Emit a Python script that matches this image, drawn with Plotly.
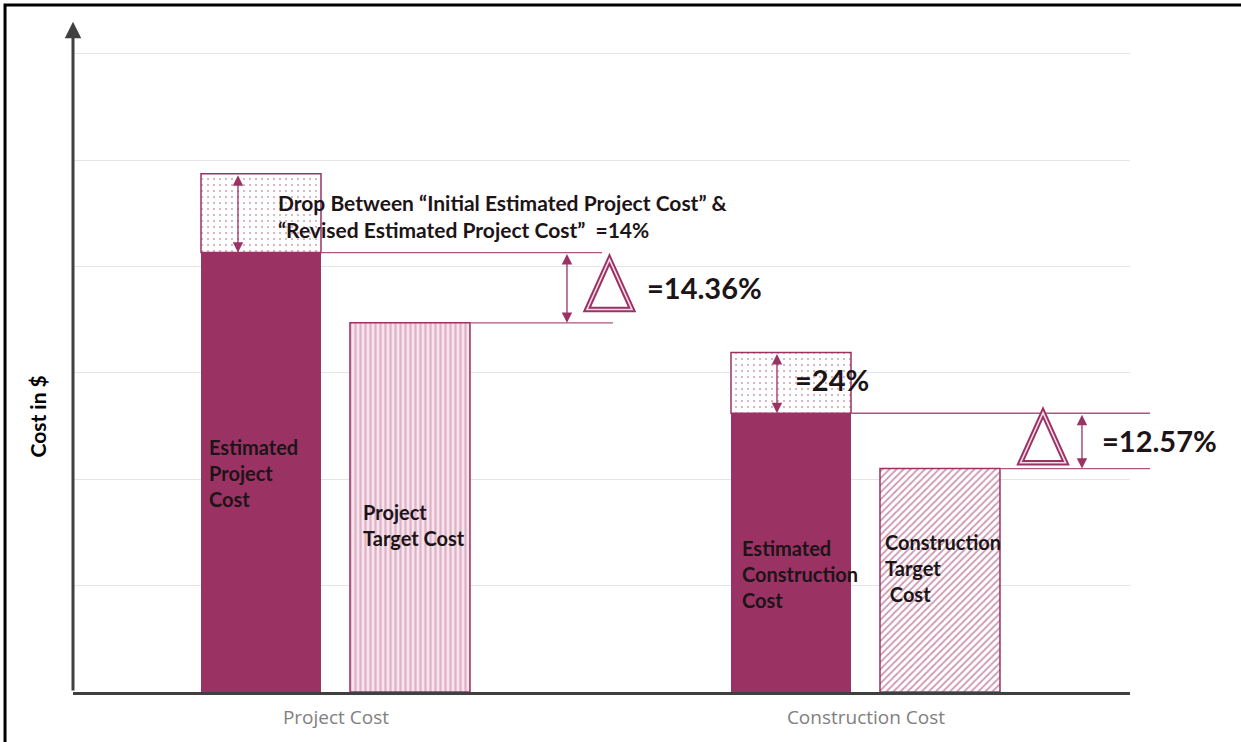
import plotly.graph_objects as go

# ---- data -------------------------------------------------------------
categories = ["Project Cost", "Construction Cost"]
initial_estimate = [4.87, 3.19]   # before the drop (dotted top)
revised_estimate = [4.13, 2.62]   # estimated cost (solid)
target_cost = [3.47, 2.10]        # target cost

estimate_labels = ["Estimated<br>Project<br>Cost", "Estimated<br>Construction<br>Cost"]
target_labels = ["Project<br>Target Cost", "Construction<br>Target<br> Cost"]
drop_labels = [
    "Drop Between \u201cInitial Estimated Project Cost\u201d &<br>"
    "\u201cRevised Estimated Project Cost\u201d \u00a0=14%",
    "=24%",
]
gap_labels = ["=14.36%", "=12.57%"]

# ---- styling / layout constants ----------------------------------------
MAGENTA = "#9b3264"
LINE_PINK = "#a8587f"
TEXT_DARK = "#1c1417"
FONT = "Lato"
X_RANGE = [-0.4962, 1.4981]
Y_RANGE = [0, 6.316]
BAR_W = 0.2264
EST_OFF = -0.2547
TGT_OFF = 0.0264


def to_paper(x):
    return (x - X_RANGE[0]) / (X_RANGE[1] - X_RANGE[0])


fig = go.Figure()

# solid estimated-cost bars
fig.add_bar(
    x=categories, y=revised_estimate, offset=EST_OFF, width=BAR_W,
    marker=dict(color=MAGENTA, line=dict(width=0)),
)
# dotted drop between initial and revised estimate
fig.add_bar(
    x=categories,
    y=[i - r for i, r in zip(initial_estimate, revised_estimate)],
    base=revised_estimate, offset=EST_OFF, width=BAR_W,
    marker=dict(
        color="white", line=dict(color=MAGENTA, width=1.5),
        pattern=dict(shape=".", fgcolor="#a24a74", bgcolor="white",
                     size=6, solidity=0.1),
    ),
)
# target bars with different hatches
fig.add_bar(
    x=[categories[0]], y=[target_cost[0]], offset=TGT_OFF, width=BAR_W,
    marker=dict(
        color="white", line=dict(color=MAGENTA, width=1.5),
        pattern=dict(shape="|", fgcolor="#c3819f", bgcolor="#f8e4ed",
                     size=5, solidity=0.45),
    ),
)
fig.add_bar(
    x=[categories[1]], y=[target_cost[1]], offset=TGT_OFF, width=BAR_W,
    marker=dict(
        color="white", line=dict(color=MAGENTA, width=1.5),
        pattern=dict(shape="/", fgcolor=MAGENTA, bgcolor="white",
                     size=5, solidity=0.35),
    ),
)

shapes = []
annotations = []

# outer frame
shapes.append(dict(type="rect", xref="paper", yref="paper",
                   x0=-0.0643, x1=1.12, y0=-0.09, y1=1.0223,
                   line=dict(color="black", width=3)))

# y-axis arrow
annotations.append(dict(
    x=X_RANGE[0], y=6.30, ax=X_RANGE[0], ay=0, xref="x", yref="y",
    axref="x", ayref="y", text="", showarrow=True, arrowhead=2,
    arrowsize=1.1, arrowwidth=3, arrowcolor="#404040", standoff=0,
))

# y-axis title
annotations.append(dict(
    x=-0.034, y=0.41, xref="paper", yref="paper", text="<b>Cost in $</b>",
    textangle=-90, showarrow=False, xanchor="center", yanchor="middle",
    font=dict(family=FONT, size=21, color="black"),
))

# layout positions of the gap markers per group
upper_line_end = [0.502, 1.5358]
lower_line_end = [0.5226, 1.5358]
gap_arrow_x = [0.4358, 1.4075]
triangle_x = [0.516, 1.334]
gap_label_x = [0.583, 1.4415]
drop_arrow_x = [-0.1849, 0.832]
drop_label_x = [-0.1132, 0.8623]
drop_label_size = [21, 29]
drop_label_shift = [-3, 3]
est_label_pos = [(-0.2434, 2.058), (0.7623, 1.109)]
tgt_label_pos = [(0.0472, 1.574), (1.032, 1.165)]

for i in range(len(categories)):
    top = revised_estimate[i]
    low = target_cost[i]
    # horizontal reference lines
    shapes.append(dict(type="line", xref="paper", yref="y",
                       x0=to_paper(i + EST_OFF + BAR_W), x1=to_paper(upper_line_end[i]),
                       y0=top, y1=top, line=dict(color=LINE_PINK, width=1.3)))
    shapes.append(dict(type="line", xref="paper", yref="y",
                       x0=to_paper(i + TGT_OFF + BAR_W), x1=to_paper(lower_line_end[i]),
                       y0=low, y1=low, line=dict(color=LINE_PINK, width=1.3)))
    # double-headed gap arrow
    annotations.append(dict(
        x=gap_arrow_x[i], y=low, ax=gap_arrow_x[i], ay=top,
        xref="x", yref="y", axref="x", ayref="y", text="", showarrow=True,
        arrowside="end+start", arrowhead=2, startarrowhead=2,
        arrowsize=1.6, startarrowsize=1.6, arrowwidth=1.3,
        arrowcolor=MAGENTA, standoff=0, startstandoff=0,
    ))
    # delta triangle (double outline)
    mid = (top + low) / 2 + 0.03
    half_h = 0.235
    tx = triangle_x[i]
    hw = 0.0425
    path = (f"M {to_paper(tx - hw)},{mid - half_h} "
            f"L {to_paper(tx)},{mid + half_h} "
            f"L {to_paper(tx + hw)},{mid - half_h} Z")
    shapes.append(dict(type="path", xref="paper", yref="y", path=path,
                       line=dict(color=MAGENTA, width=5.5)))
    shapes.append(dict(type="path", xref="paper", yref="y", path=path,
                       line=dict(color="#f6dce8", width=1.6)))
    # gap label
    annotations.append(dict(
        x=gap_label_x[i], y=(top + low) / 2, xref="x", yref="y",
        text=f"<b>{gap_labels[i]}</b>", showarrow=False, xanchor="left",
        font=dict(family=FONT, size=29, color=TEXT_DARK),
    ))
    # drop arrow inside dotted portion
    annotations.append(dict(
        x=drop_arrow_x[i], y=revised_estimate[i], ax=drop_arrow_x[i],
        ay=initial_estimate[i], xref="x", yref="y", axref="x", ayref="y",
        text="", showarrow=True, arrowside="end+start", arrowhead=2,
        startarrowhead=2, arrowsize=1.6, startarrowsize=1.6, arrowwidth=1.3,
        arrowcolor=MAGENTA, standoff=0, startstandoff=0,
    ))
    annotations.append(dict(
        x=drop_label_x[i], y=(initial_estimate[i] + revised_estimate[i]) / 2,
        xref="x", yref="y", text=f"<b>{drop_labels[i]}</b>", showarrow=False,
        xanchor="left", align="left", yshift=drop_label_shift[i],
        font=dict(family=FONT, size=drop_label_size[i], color=TEXT_DARK),
    ))
    # labels inside bars
    for (lx, ly), label in ((est_label_pos[i], estimate_labels[i]),
                            (tgt_label_pos[i], target_labels[i])):
        annotations.append(dict(
            x=lx, y=ly, xref="x", yref="y", text=f"<b>{label}</b>",
            showarrow=False, xanchor="left", align="left",
            font=dict(family=FONT, size=20, color=TEXT_DARK),
        ))

fig.update_layout(
    width=1241, height=742,
    margin=dict(l=73, r=111, t=20, b=50, pad=0),
    paper_bgcolor="white", plot_bgcolor="white",
    barmode="overlay", showlegend=False,
    shapes=shapes, annotations=annotations,
    xaxis=dict(
        type="category", range=X_RANGE, showgrid=False, zeroline=False,
        showline=True, linecolor="#404040", linewidth=3, ticks="",
        ticklabelstandoff=6,
        tickfont=dict(family="Open Sans", size=19, color="#808080"),
    ),
    yaxis=dict(
        range=Y_RANGE, dtick=1, showgrid=True, gridcolor="#e4e4e4",
        gridwidth=1, zeroline=False, showline=False, showticklabels=False,
        ticks="",
    ),
)

fig.write_html("out.html")
